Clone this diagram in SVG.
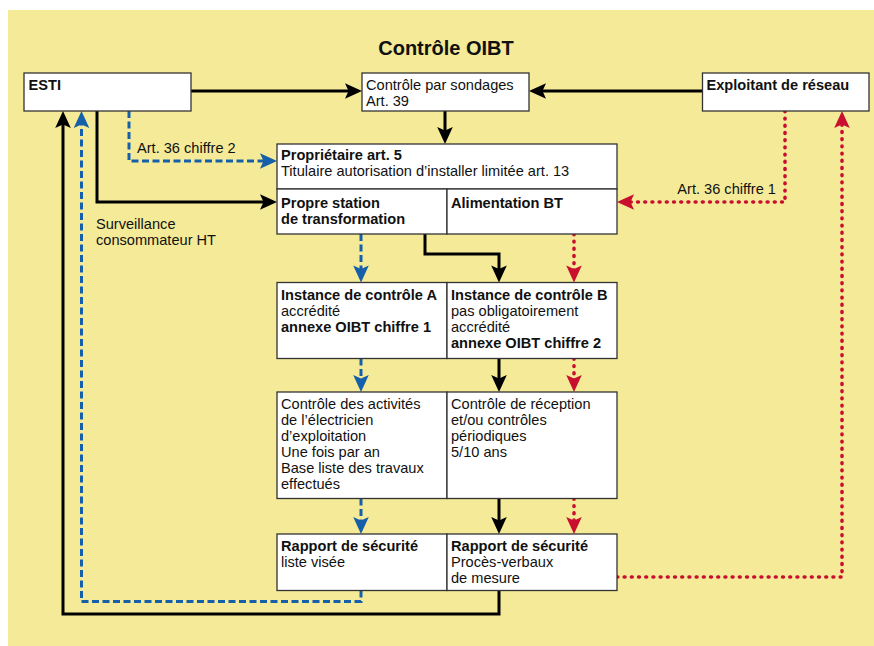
<svg xmlns="http://www.w3.org/2000/svg" width="874" height="646" viewBox="0 0 874 646">
<style>
text{font-family:"Liberation Sans",Arial,Helvetica,sans-serif;font-size:14.6px;fill:#111}
.b{font-weight:bold}
.title{font-size:20px;font-weight:bold}
.box{fill:#fff;stroke:#333;stroke-width:1.3}
.k{fill:none;stroke:#000;stroke-width:3}
.bl{fill:none;stroke:#1560a8;stroke-width:3;stroke-dasharray:7 3.5}
.rd{fill:none;stroke:#c8102e;stroke-width:3.6;stroke-dasharray:0.8 6.4;stroke-linecap:round}
</style>
<defs>
<marker id="ak" markerUnits="userSpaceOnUse" markerWidth="40" markerHeight="40" viewBox="-20 -20 40 40" refX="0" refY="0" orient="auto" overflow="visible"><path d="M6,0 L-11,-7.8 L-7.5,0 L-11,7.8 Z" fill="#000"/></marker>
<marker id="ab" markerUnits="userSpaceOnUse" markerWidth="40" markerHeight="40" viewBox="-20 -20 40 40" refX="0" refY="0" orient="auto" overflow="visible"><path d="M6,0 L-11,-7.8 L-7.5,0 L-11,7.8 Z" fill="#1560a8"/></marker>
<marker id="ar" markerUnits="userSpaceOnUse" markerWidth="40" markerHeight="40" viewBox="-20 -20 40 40" refX="0" refY="0" orient="auto" overflow="visible"><path d="M6,0 L-11,-7.8 L-7.5,0 L-11,7.8 Z" fill="#c8102e"/></marker>
</defs>
<rect x="8" y="10" width="866" height="636" fill="#f4ea98"/>
<text class="title" x="446" y="54.5" text-anchor="middle">Contrôle OIBT</text>

<g id="connectors">
<path class="k" d="M191,91 H356" marker-end="url(#ak)"/>
<path class="k" d="M702.5,91 H535" marker-end="url(#ak)"/>
<path class="k" d="M445,111 V138" marker-end="url(#ak)"/>
<path class="bl" d="M129,111 V161 H271" marker-end="url(#ab)"/>
<path class="k" d="M97,111 V202 H271" marker-end="url(#ak)"/>
<path class="rd" d="M785,111 V202 H623" marker-end="url(#ar)"/>
<path class="bl" d="M361,234 V276.5" marker-end="url(#ab)"/>
<path class="k" d="M425,234 V254 H499 V276.5" marker-end="url(#ak)"/>
<path class="rd" d="M574,234 V276.5" marker-end="url(#ar)"/>
<path class="bl" d="M361,358.5 V386" marker-end="url(#ab)"/>
<path class="k" d="M499,358.5 V386" marker-end="url(#ak)"/>
<path class="rd" d="M574,358.5 V386" marker-end="url(#ar)"/>
<path class="bl" d="M361,498.5 V528" marker-end="url(#ab)"/>
<path class="k" d="M499,498.5 V528" marker-end="url(#ak)"/>
<path class="rd" d="M574,498.5 V528" marker-end="url(#ar)"/>
<path class="k" d="M499,590.5 V614 H63 V117" marker-end="url(#ak)"/>
<path class="bl" d="M361,590.5 V601.5 H81.5 V117" marker-end="url(#ab)"/>
<path class="rd" d="M617,577 H842 V117" marker-end="url(#ar)"/>
<text x="137" y="152.5">Art. 36 chiffre 2</text>
<text x="776" y="194" text-anchor="end">Art. 36 chiffre 1</text>
<text x="96" y="228.5">Surveillance</text>
<text x="96" y="244.5">consommateur HT</text>
</g>

<g id="esti"><rect class="box" x="24" y="73" width="167" height="38"/><text class="b" x="28.5" y="90">ESTI</text></g>
<g id="sondages"><rect class="box" x="362" y="73" width="167" height="38"/><text x="366" y="90">Contrôle par sondages</text><text x="366" y="105.5">Art. 39</text></g>
<g id="exploitant"><rect class="box" x="702.5" y="73" width="166.5" height="38"/><text class="b" x="706.5" y="90">Exploitant de réseau</text></g>
<g id="proprietaire"><rect class="box" x="277" y="144" width="340" height="45"/><text class="b" x="281" y="160">Propriétaire art. 5</text><text x="281" y="176">Titulaire autorisation d’installer limitée art. 13</text></g>
<g id="propre"><rect class="box" x="277" y="189" width="170" height="45"/><text class="b" x="281" y="207.5">Propre station</text><text class="b" x="281" y="223.5">de transformation</text></g>
<g id="alimentation"><rect class="box" x="447" y="189" width="170" height="45"/><text class="b" x="451" y="207.5">Alimentation BT</text></g>
<g id="instanceA"><rect class="box" x="277" y="282.5" width="170" height="76"/><text class="b" x="281" y="299.5">Instance de contrôle A</text><text x="281" y="315.5">accrédité</text><text class="b" x="281" y="331.5">annexe OIBT chiffre 1</text></g>
<g id="instanceB"><rect class="box" x="447" y="282.5" width="170" height="76"/><text class="b" x="451" y="299.5">Instance de contrôle B</text><text x="451" y="315.5">pas obligatoirement</text><text x="451" y="331.5">accrédité</text><text class="b" x="451" y="347.5">annexe OIBT chiffre 2</text></g>
<g id="controleA"><rect class="box" x="277" y="392" width="170" height="106.5"/><text x="281" y="408.5">Contrôle des activités</text><text x="281" y="424.5">de l’électricien</text><text x="281" y="440.5">d’exploitation</text><text x="281" y="456.5">Une fois par an</text><text x="281" y="472.5">Base liste des travaux</text><text x="281" y="488.5">effectués</text></g>
<g id="controleB"><rect class="box" x="447" y="392" width="170" height="106.5"/><text x="451" y="408.5">Contrôle de réception</text><text x="451" y="424.5">et/ou contrôles</text><text x="451" y="440.5">périodiques</text><text x="451" y="456.5">5/10 ans</text></g>
<g id="rapportA"><rect class="box" x="277" y="534" width="170" height="56.5"/><text class="b" x="281" y="550.5">Rapport de sécurité</text><text x="281" y="566.5">liste visée</text></g>
<g id="rapportB"><rect class="box" x="447" y="534" width="170" height="56.5"/><text class="b" x="451" y="550.5">Rapport de sécurité</text><text x="451" y="566.5">Procès-verbaux</text><text x="451" y="582.5">de mesure</text></g>
</svg>
